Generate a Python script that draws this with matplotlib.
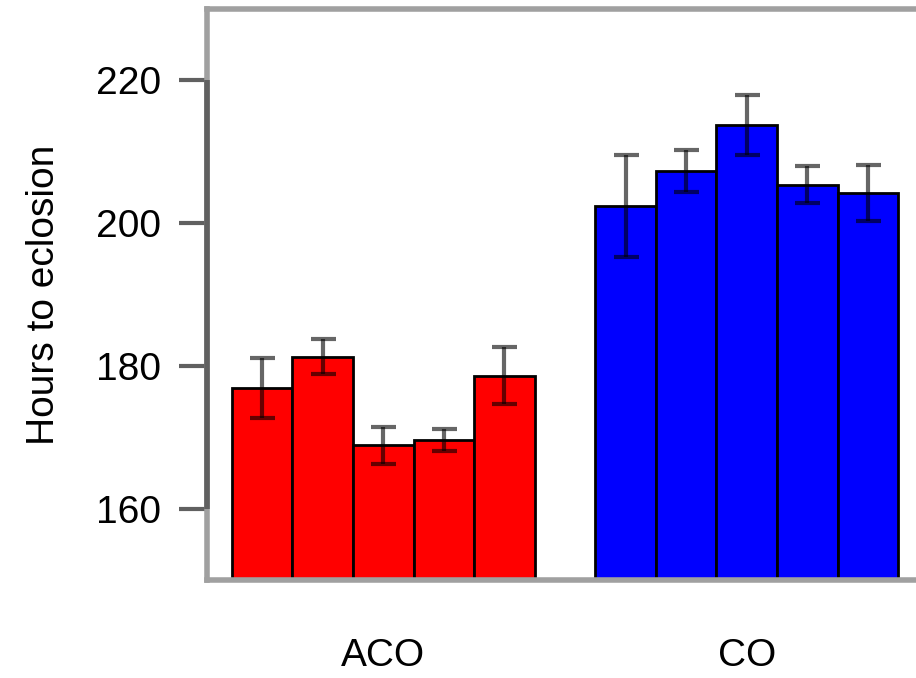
import matplotlib
matplotlib.use("Agg")
import matplotlib.pyplot as plt

plt.rcParams['font.family'] = ['Liberation Sans', 'DejaVu Sans']

# Data
groups = ['ACO', 'CO']
aco_means = [176.9, 181.3, 168.9, 169.6, 178.6]
aco_err = [4.2, 2.4, 2.6, 1.5, 4.0]
co_means = [202.4, 207.3, 213.7, 205.4, 204.2]
co_err = [7.2, 2.9, 4.2, 2.6, 3.9]
yticks = [160, 180, 200, 220]

fig = plt.figure(figsize=(9.16, 6.78), dpi=100)
ax = fig.add_axes([0.226, 0.1445, 0.7817, 0.8422])

aco_x = [i + 0.5 for i in range(len(aco_means))]
co_x = [i + 6.5 for i in range(len(co_means))]

ax.bar(aco_x, [m - 150 for m in aco_means], bottom=150, width=1,
       color='#ff0000', edgecolor='black', linewidth=2, zorder=2)
ax.bar(co_x, [m - 150 for m in co_means], bottom=150, width=1,
       color='#0000ff', edgecolor='black', linewidth=2, zorder=2)

# Error bars
for xs, ms, es in [(aco_x, aco_means, aco_err), (co_x, co_means, co_err)]:
    ax.errorbar(xs, ms, yerr=es, fmt='none', ecolor='black', alpha=0.6,
                elinewidth=3, capsize=9, capthick=3, zorder=3)

ax.set_xlim(-0.41, 11.41)
ax.set_ylim(150, 230)

# Box: light gray, axis line dark gray
for s in ['left', 'top', 'bottom', 'right']:
    ax.spines[s].set_color('#a0a0a0')
    ax.spines[s].set_linewidth(4)
ax.plot([-0.41, -0.41], [160, 220], color='#606060', lw=4,
        clip_on=False, zorder=5, solid_capstyle='butt')

ax.set_yticks(yticks)
ax.set_yticklabels([str(t) for t in yticks])
ax.tick_params(axis='y', length=20, width=3, color='#606060',
               labelsize=28, pad=13)

ax.set_xticks([2.5, 8.5])
ax.set_xticklabels(groups)
ax.tick_params(axis='x', length=0, labelsize=28, pad=42)

ax.text(-0.228, 0.5, 'Hours to eclosion', transform=ax.transAxes,
        rotation=90, ha='center', va='center', fontsize=28)

fig.savefig('out.png', dpi=100)
